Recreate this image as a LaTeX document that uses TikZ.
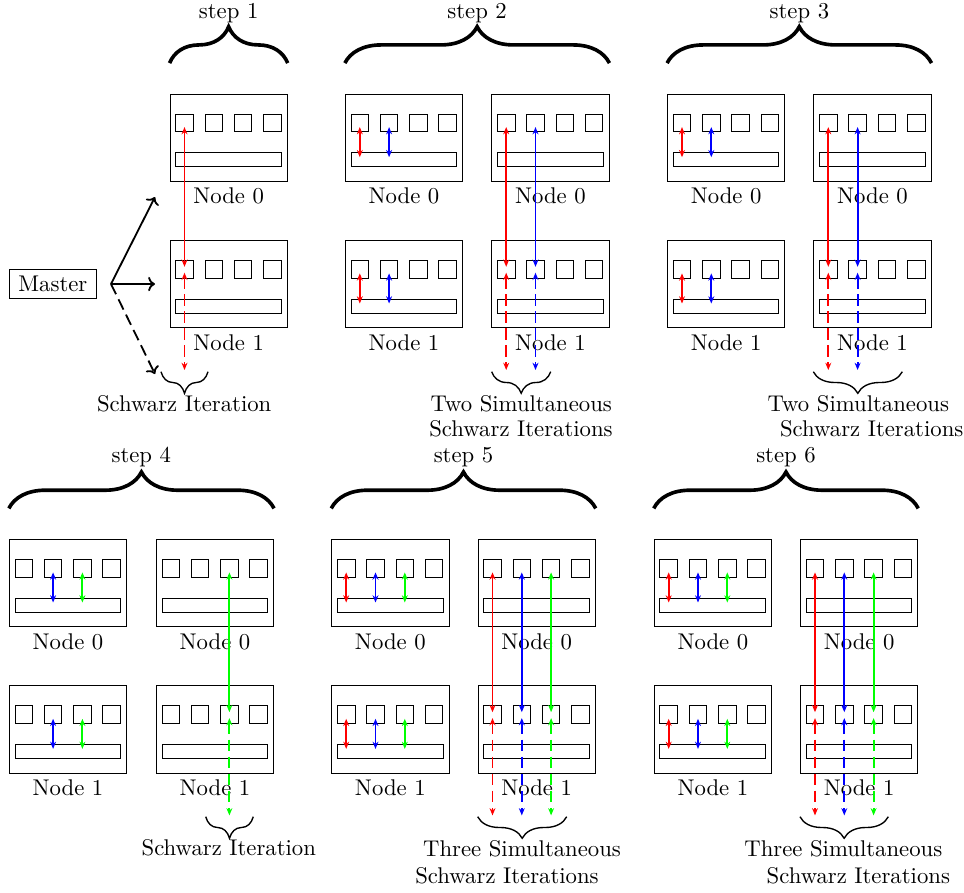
\documentclass[tikz,border=0pt]{standalone}
\usetikzlibrary{arrows.meta,decorations.pathreplacing}
\tikzset{
  frame/.style={draw, rectangle, inner sep=0pt, minimum width=51.6pt, minimum height=38.5pt},
  sq/.style={draw, rectangle, inner sep=0pt, minimum size=7.74pt},
  bar/.style={draw, rectangle, inner sep=0pt, minimum width=46.5pt, minimum height=6.16pt},
  lbl/.style={inner sep=0pt, anchor=base},
  link/.style={thick, {Stealth[length=3.2pt,width=2.6pt]}-{Stealth[length=3.2pt,width=2.6pt]}, shorten <=1.8pt, shorten >=1.1pt},
  dlink/.style={thick, {Stealth[length=3.2pt,width=2.6pt]}-{Stealth[length=3.2pt,width=2.6pt]}, shorten <=1.5pt, dash pattern=on 5pt off 2.5pt},
  bigbrace/.style={decorate, decoration={brace, amplitude=16pt}, line width=1.6pt},
  smallbrace/.style={decorate, decoration={brace, amplitude=9.5pt, mirror}, semithick},
  marrow/.style={thick, -{To[length=3pt]}},
}
\newcommand{\compnode}[4]{%
  \node[frame] (#1) at ({#2+58.65},{#3+43.75}) {};
  \node[sq] (#1-s1) at ({#2+14.5},{#3+29}) {};
  \node[sq] (#1-s2) at ({#2+43.8},{#3+29}) {};
  \node[sq] (#1-s3) at ({#2+73.1},{#3+29}) {};
  \node[sq] (#1-s4) at ({#2+102.4},{#3+29}) {};
  \node[bar] (#1-bar) at ({#2+58.5},{#3+65.7}) {};
  \node[lbl] (#1-lab) at ({#2+58.65},{#3+109.7}) {#4};
}
\begin{document}
\begin{tikzpicture}[x=0.44pt,y=-0.44pt]
\useasboundingbox (0,0) rectangle (964,892);

% ---------------- step 1 ----------------
\compnode{A0}{170}{94}{Node 0}
\compnode{A1}{170}{240.3}{Node 1}
\draw[bigbrace] ([yshift=13.4pt]A0.north west) -- ([yshift=13.4pt]A0.north east);
\node[lbl] (st1) at (228.65,18.3) {step 1};
\draw[link,red] (A0-s1.center) -- (A1-s1.center);
\coordinate (A-e1) at (184.5,370);
\draw[dlink,red] (A1-s1.center) -- (A-e1);
\coordinate (A-bl) at (161,371.7);
\coordinate (A-br) at (208,371.7);
\draw[smallbrace] (A-bl) -- (A-br);
\node[lbl] (A-t1) at (184.2,411) {Schwarz Iteration};

% Master
\node[draw, inner sep=0pt, minimum width=38.6pt, minimum height=12.8pt] (master) at (52.85,283.8) {Master};
\coordinate (fork) at (111,284);
\coordinate (m0) at (155,197);
\coordinate (m1) at (155,284);
\coordinate (m2) at (155,374);
\draw[marrow] (fork) -- (m0);
\draw[marrow] (fork) -- (m1);
\draw[marrow, dash pattern=on 5pt off 2.5pt] (fork) -- (m2);

% ---------------- step 2 ----------------
\compnode{B0L}{345.3}{94}{Node 0}
\compnode{B1L}{345.3}{240.3}{Node 1}
\compnode{B0R}{491.7}{94}{Node 0}
\compnode{B1R}{491.7}{240.3}{Node 1}
\draw[bigbrace] ([yshift=13.4pt]B0L.north west) -- ([yshift=13.4pt]B0R.north east);
\node[lbl] (st2) at (477.1,18.3) {step 2};
\draw[link,red]  (B0L-s1.center) -- (B0L-s1.center |- B0L-bar.center);
\draw[link,blue] (B0L-s2.center) -- (B0L-s2.center |- B0L-bar.center);
\draw[link,red]  (B1L-s1.center) -- (B1L-s1.center |- B1L-bar.center);
\draw[link,blue] (B1L-s2.center) -- (B1L-s2.center |- B1L-bar.center);
\draw[link,red]  (B0R-s1.center) -- (B1R-s1.center);
\draw[link,blue] (B0R-s2.center) -- (B1R-s2.center);
\coordinate (B-e1) at (506.2,370);
\coordinate (B-e2) at (535.5,370);
\draw[dlink,red]  (B1R-s1.center) -- (B-e1);
\draw[dlink,blue] (B1R-s2.center) -- (B-e2);
\coordinate (B-bl) at (491.7,371.7);
\coordinate (B-br) at (550.7,371.7);
\draw[smallbrace] (B-bl) -- (B-br);
\node[lbl] (B-t1) at (521.2,411) {Two Simultaneous};
\node[lbl] (B-t2) at (521,436) {Schwarz Iterations};

% ---------------- step 3 ----------------
\compnode{C0L}{667.5}{94}{Node 0}
\compnode{C1L}{667.5}{240.3}{Node 1}
\compnode{C0R}{813.8}{94}{Node 0}
\compnode{C1R}{813.8}{240.3}{Node 1}
\draw[bigbrace] ([yshift=13.4pt]C0L.north west) -- ([yshift=13.4pt]C0R.north east);
\node[lbl] (st3) at (799.4,18.3) {step 3};
\draw[link,red]  (C0L-s1.center) -- (C0L-s1.center |- C0L-bar.center);
\draw[link,blue] (C0L-s2.center) -- (C0L-s2.center |- C0L-bar.center);
\draw[link,red]  (C1L-s1.center) -- (C1L-s1.center |- C1L-bar.center);
\draw[link,blue] (C1L-s2.center) -- (C1L-s2.center |- C1L-bar.center);
\draw[link,red]  (C0R-s1.center) -- (C1R-s1.center);
\draw[link,blue] (C0R-s2.center) -- (C1R-s2.center);
\coordinate (C-e1) at (828.3,370);
\coordinate (C-e2) at (857.6,370);
\draw[dlink,red]  (C1R-s1.center) -- (C-e1);
\draw[dlink,blue] (C1R-s2.center) -- (C-e2);
\coordinate (C-bl) at (813.3,371.7);
\coordinate (C-br) at (902.3,371.7);
\draw[smallbrace] (C-bl) -- (C-br);
\node[lbl] (C-t1) at (858.3,411) {Two Simultaneous};
\node[lbl] (C-t2) at (871.7,436) {Schwarz Iterations};

% ---------------- step 4 ----------------
\compnode{D0L}{9.3}{539.3}{Node 0}
\compnode{D1L}{9.3}{685.7}{Node 1}
\compnode{D0R}{156.3}{539.3}{Node 0}
\compnode{D1R}{156.3}{685.7}{Node 1}
\draw[bigbrace] ([yshift=13.4pt]D0L.north west) -- ([yshift=13.4pt]D0R.north east);
\node[lbl] (st4) at (141.3,462.7) {step 4};
\draw[link,blue]  (D0L-s2.center) -- (D0L-s2.center |- D0L-bar.center);
\draw[link,green] (D0L-s3.center) -- (D0L-s3.center |- D0L-bar.center);
\draw[link,blue]  (D1L-s2.center) -- (D1L-s2.center |- D1L-bar.center);
\draw[link,green] (D1L-s3.center) -- (D1L-s3.center |- D1L-bar.center);
\draw[link,green] (D0R-s3.center) -- (D1R-s3.center);
\coordinate (D-e3) at (229.4,815.4);
\draw[dlink,green] (D1R-s3.center) -- (D-e3);
\coordinate (D-bl) at (205.7,816.7);
\coordinate (D-br) at (253.3,816.7);
\draw[smallbrace] (D-bl) -- (D-br);
\node[lbl] (D-t1) at (228.8,855) {Schwarz Iteration};

% ---------------- step 5 ----------------
\compnode{E0L}{331.7}{539.3}{Node 0}
\compnode{E1L}{331.7}{685.7}{Node 1}
\compnode{E0R}{478}{539.3}{Node 0}
\compnode{E1R}{478}{685.7}{Node 1}
\draw[bigbrace] ([yshift=13.4pt]E0L.north west) -- ([yshift=13.4pt]E0R.north east);
\node[lbl] (st5) at (463.5,462.7) {step 5};
\draw[link,red]   (E0L-s1.center) -- (E0L-s1.center |- E0L-bar.center);
\draw[link,blue]  (E0L-s2.center) -- (E0L-s2.center |- E0L-bar.center);
\draw[link,green] (E0L-s3.center) -- (E0L-s3.center |- E0L-bar.center);
\draw[link,red]   (E1L-s1.center) -- (E1L-s1.center |- E1L-bar.center);
\draw[link,blue]  (E1L-s2.center) -- (E1L-s2.center |- E1L-bar.center);
\draw[link,green] (E1L-s3.center) -- (E1L-s3.center |- E1L-bar.center);
\draw[link,red]   (E0R-s1.center) -- (E1R-s1.center);
\draw[link,blue]  (E0R-s2.center) -- (E1R-s2.center);
\draw[link,green] (E0R-s3.center) -- (E1R-s3.center);
\coordinate (E-e1) at (492.5,815.4);
\coordinate (E-e2) at (521.8,815.4);
\coordinate (E-e3) at (551.1,815.4);
\draw[dlink,red]   (E1R-s1.center) -- (E-e1);
\draw[dlink,blue]  (E1R-s2.center) -- (E-e2);
\draw[dlink,green] (E1R-s3.center) -- (E-e3);
\coordinate (E-bl) at (477.7,816.7);
\coordinate (E-br) at (566.7,816.7);
\draw[smallbrace] (E-bl) -- (E-br);
\node[lbl] (E-t1) at (522,856) {Three Simultaneous};
\node[lbl] (E-t2) at (507,883) {Schwarz Iterations};

% ---------------- step 6 ----------------
\compnode{F0L}{654.2}{539.3}{Node 0}
\compnode{F1L}{654.2}{685.7}{Node 1}
\compnode{F0R}{800.5}{539.3}{Node 0}
\compnode{F1R}{800.5}{685.7}{Node 1}
\draw[bigbrace] ([yshift=13.4pt]F0L.north west) -- ([yshift=13.4pt]F0R.north east);
\node[lbl] (st6) at (786,462.7) {step 6};
\draw[link,red]   (F0L-s1.center) -- (F0L-s1.center |- F0L-bar.center);
\draw[link,blue]  (F0L-s2.center) -- (F0L-s2.center |- F0L-bar.center);
\draw[link,green] (F0L-s3.center) -- (F0L-s3.center |- F0L-bar.center);
\draw[link,red]   (F1L-s1.center) -- (F1L-s1.center |- F1L-bar.center);
\draw[link,blue]  (F1L-s2.center) -- (F1L-s2.center |- F1L-bar.center);
\draw[link,green] (F1L-s3.center) -- (F1L-s3.center |- F1L-bar.center);
\draw[link,red]   (F0R-s1.center) -- (F1R-s1.center);
\draw[link,blue]  (F0R-s2.center) -- (F1R-s2.center);
\draw[link,green] (F0R-s3.center) -- (F1R-s3.center);
\coordinate (F-e1) at (815,815.4);
\coordinate (F-e2) at (844.3,815.4);
\coordinate (F-e3) at (873.6,815.4);
\draw[dlink,red]   (F1R-s1.center) -- (F-e1);
\draw[dlink,blue]  (F1R-s2.center) -- (F-e2);
\draw[dlink,green] (F1R-s3.center) -- (F-e3);
\coordinate (F-bl) at (800,816.7);
\coordinate (F-br) at (888.3,816.7);
\draw[smallbrace] (F-bl) -- (F-br);
\node[lbl] (F-t1) at (843.3,856) {Three Simultaneous};
\node[lbl] (F-t2) at (858.3,883) {Schwarz Iterations};
\end{tikzpicture}
\end{document}
